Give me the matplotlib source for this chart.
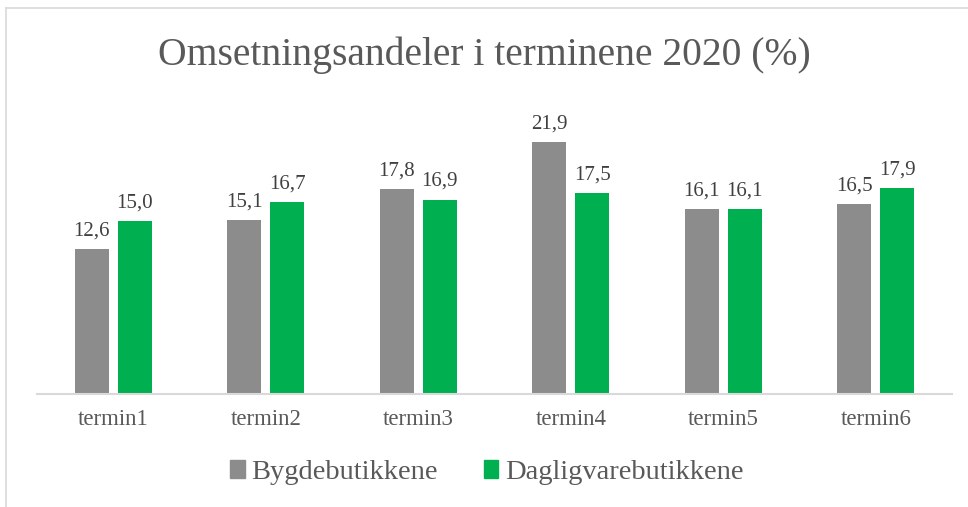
import matplotlib
matplotlib.use("Agg")
import matplotlib.pyplot as plt
import numpy as np
from matplotlib.patches import Patch
from matplotlib import font_manager as fm

categories = ["termin1", "termin2", "termin3", "termin4", "termin5", "termin6"]
bygde = [12.6, 15.1, 17.8, 21.9, 16.1, 16.5]
dagligvare = [15.0, 16.7, 16.9, 17.5, 16.1, 17.9]
series_names = ["Bygdebutikkene", "Dagligvarebutikkene"]
title = "Omsetningsandeler i terminene 2020 (%)"

names = sorted({f.name for f in fm.fontManager.ttflist})
fam = "DejaVu Serif"
for cand in ["DejaVu Serif Condensed", "Liberation Serif"]:
    if cand in names:
        fam = cand
        break
plt.rcParams['font.family'] = [fam, 'DejaVu Serif']

fig = plt.figure(figsize=(9.68, 5.07), dpi=100)
ax = fig.add_axes([0.0382, 0.2229, 0.9453, 0.5671])

x = np.arange(len(categories))
w = 0.223
off = 0.142
b1 = ax.bar(x - off, bygde, w, color="#8C8C8C")
b2 = ax.bar(x + off, dagligvare, w, color="#00B050")
for bars, vals in ((b1, bygde), (b2, dagligvare)):
    for r, v in zip(bars, vals):
        ax.text(r.get_x() + r.get_width() / 2, v + 0.75, f"{v:.1f}".replace(".", ","),
                ha="center", va="bottom", fontsize=15, color="#404040")

ax.set_xlim(-0.5, 5.5)
ax.set_ylim(0, 25)
ax.set_yticks([])
ax.set_xticks(x)
ax.set_xticklabels(categories, fontsize=16.5, color="#595959")
ax.tick_params(axis="x", length=0, pad=11)
for s in ["top", "right", "left"]:
    ax.spines[s].set_visible(False)
ax.spines["bottom"].set_color("#D9D9D9")
ax.spines["bottom"].set_linewidth(1.5)

fig.text(0.5, 0.892, title, ha="center", va="center", fontsize=28.5, color="#595959")

handles = [Patch(color="#8C8C8C"), Patch(color="#00B050")]
fig.legend(handles, series_names, loc="center", bbox_to_anchor=(0.503, 0.068), ncol=2,
           frameon=False, fontsize=20.5, labelcolor="#595959", handlelength=0.5,
           handleheight=0.6, handletextpad=0.25, columnspacing=1.6)

# outer chart border (cropped)
fig.add_artist(plt.Line2D([0.006, 0.006], [0, 0.985], color="#D9D9D9", lw=1.2, transform=fig.transFigure))
fig.add_artist(plt.Line2D([0.006, 1.0], [0.985, 0.985], color="#D9D9D9", lw=1.2, transform=fig.transFigure))

fig.savefig("out.png", dpi=100)
